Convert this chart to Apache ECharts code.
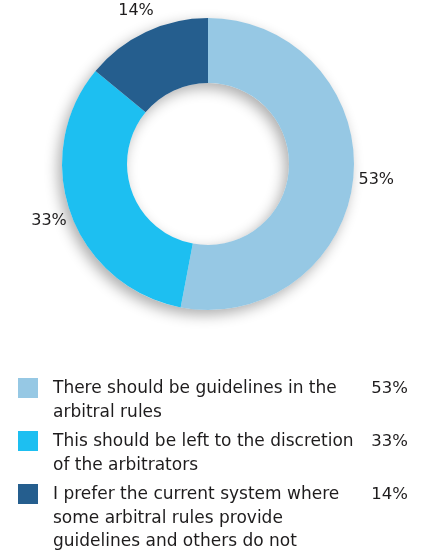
<!DOCTYPE html>
<html>
<head>
<meta charset="utf-8">
<script src="https://cdn.jsdelivr.net/npm/echarts@6/dist/echarts.min.js"></script>
<style>
html,body{margin:0;padding:0;background:#fff;}
#chart{width:429px;height:553px;}
</style>
</head>
<body>
<div id="chart"></div>
<script>
// Data
var categories = [
  'There should be guidelines in the\narbitral rules',
  'This should be left to the discretion\nof the arbitrators',
  'I prefer the current system where\nsome arbitral rules provide\nguidelines and others do not'
];
var values = [53, 33, 14];
var colors = ['#96C8E4', '#1DBFF1', '#255E8E'];

var FONT = '"DejaVu Sans", "Liberation Sans", Arial, sans-serif';
var TEXT_COLOR = '#1e1c1d';

var chart = echarts.init(document.getElementById('chart'), null, {renderer: 'canvas'});

var pieData = categories.map(function (c, i) {
  return {name: c, value: values[i], itemStyle: {color: colors[i]}};
});
var total = values.reduce(function (a, b) { return a + b; }, 0);

// Legend built from the same arrays
var graphics = [];
var legendTop = 378, rowGap = 53, lineH = 23.5;
categories.forEach(function (c, i) {
  var y = legendTop + i * rowGap;
  graphics.push({
    type: 'rect', left: 18, top: y,
    shape: {width: 20, height: 20},
    style: {fill: colors[i]}
  });
  graphics.push({
    type: 'text', left: 53, top: y - 1,
    style: {text: c, font: '17px ' + FONT, fill: TEXT_COLOR, lineHeight: lineH}
  });
  graphics.push({
    type: 'text', right: 21, top: y - 1,
    style: {text: values[i] + '%', font: '16.5px ' + FONT, fill: TEXT_COLOR, lineHeight: lineH, align: 'right'}
  });
});

chart.setOption({
  backgroundColor: '#fff',
  animation: false,
  series: [
    {
      // soft drop shadow under the whole ring
      type: 'pie',
      center: [208, 164],
      radius: [81, 146],
      silent: true,
      label: {show: false},
      labelLine: {show: false},
      itemStyle: {
        color: '#f4f4f4',
        shadowBlur: 14,
        shadowColor: 'rgba(0,0,0,0.32)',
        shadowOffsetX: -4,
        shadowOffsetY: 5
      },
      emphasis: {disabled: true},
      data: [{name: 'total', value: total}]
    },
    {
      type: 'pie',
      center: [208, 164],
      radius: [81, 146],
      startAngle: 90,
      clockwise: true,
      label: {show: false},
      labelLine: {show: false},
      itemStyle: {borderWidth: 0},
      emphasis: {disabled: true},
      data: pieData
    },
    {
      type: 'pie',
      center: [208, 164],
      radius: [148, 184],
      startAngle: 90,
      clockwise: true,
      silent: true,
      itemStyle: {color: 'rgba(0,0,0,0)'},
      label: {
        show: true,
        position: 'inside',
        formatter: function (p) { return p.value + '%'; },
        fontFamily: FONT,
        fontSize: 16,
        color: TEXT_COLOR
      },
      labelLine: {show: false},
      emphasis: {disabled: true},
      data: pieData.map(function (d) { return {name: d.name, value: d.value}; })
    }
  ],
  graphic: graphics
});
</script>
</body>
</html>
